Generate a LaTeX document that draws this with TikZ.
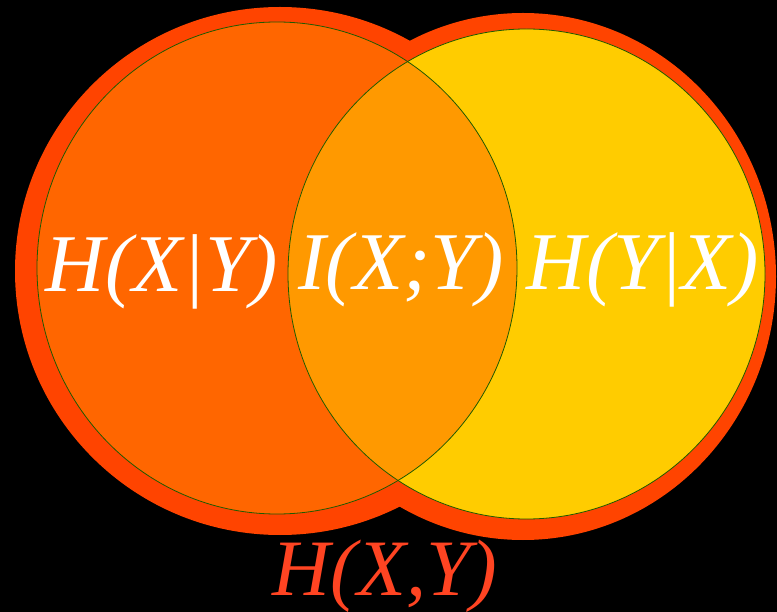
\documentclass[tikz,border=0pt]{standalone}
\usepackage{fontspec}
\setmainfont{Liberation Serif}
\definecolor{outerred}{HTML}{FF4400}
\definecolor{leftorange}{HTML}{FF6600}
\definecolor{midorange}{HTML}{FF9900}
\definecolor{rightyellow}{HTML}{FFCC00}
\definecolor{edgegreen}{HTML}{1F5A00}
\definecolor{labelred}{HTML}{FF4422}
\tikzset{
  lbl/.style={text=white, inner sep=0pt, anchor=base, font=\fontsize{82}{90}\selectfont\itshape},
  bottomlbl/.style={text=labelred, inner sep=0pt, anchor=base, font=\fontsize{80}{90}\selectfont\itshape},
  rim/.style={draw=edgegreen, line width=0.8pt}
}
\begin{document}
\begin{tikzpicture}[x=1pt,y=-1pt]
\fill[black] (0,0) rectangle (777,612);
\useasboundingbox (0,0) rectangle (777,612);
% outer red union
\fill[outerred] (280,271) ellipse [x radius=265, y radius=264];
\fill[outerred] (523,276.5) ellipse [x radius=253, y radius=263.5];
% inner circles
\fill[leftorange] (277,268) ellipse [x radius=240, y radius=246];
\fill[rightyellow] (526.5,274) ellipse [x radius=238.5, y radius=245];
\begin{scope}
  \clip (277,268) ellipse [x radius=240, y radius=246];
  \fill[midorange] (526.5,274) ellipse [x radius=238.5, y radius=245];
\end{scope}
\draw[rim] (277,268) ellipse [x radius=240, y radius=246];
\draw[rim] (526.5,274) ellipse [x radius=238.5, y radius=245];
% labels
\node[lbl] (hxy) at (162,292) {H(X|Y)};
\node[lbl] (ixy) at (401,290) {I(X;Y)};
\node[lbl] (hyx) at (643,290) {H(Y|X)};
\node[bottomlbl] (joint) at (385,595) {H(X,Y)};
\end{tikzpicture}
\end{document}
